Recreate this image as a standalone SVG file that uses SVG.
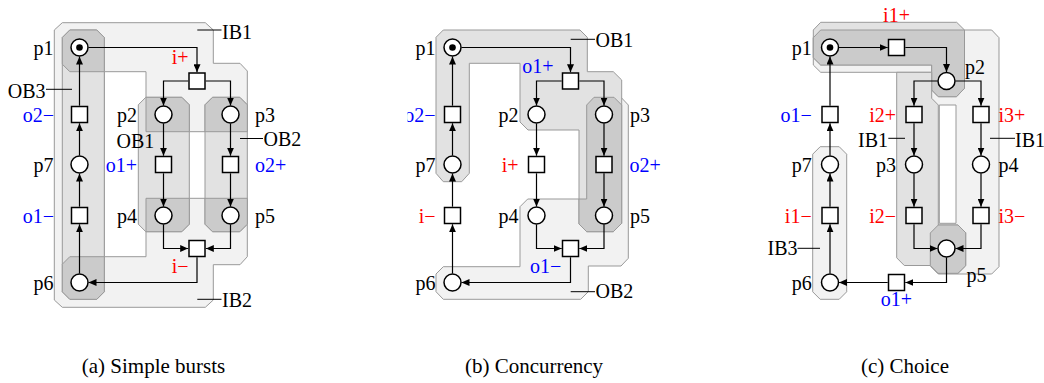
<svg xmlns="http://www.w3.org/2000/svg" width="1044" height="383" viewBox="0 0 1044 383">
<defs>
<marker id="ah" markerUnits="userSpaceOnUse" viewBox="0 0 8 7" markerWidth="8" markerHeight="7" refX="8" refY="3.5" orient="auto"><path d="M0,0 L8,3.5 L0,7 Z" fill="#000"/></marker>
<clipPath id="clipB"><rect x="407.5" y="0" width="636" height="383"/></clipPath>
</defs>
<style>
.lt{fill:#f2f2f2;stroke:#999;stroke-width:1}
.md{fill:#e2e2e2;stroke:#999;stroke-width:1}
.dk{fill:#cbcbcb;stroke:#999;stroke-width:1}
.pl{fill:#fff;stroke:#000;stroke-width:1.5}
.tr{fill:#fff;stroke:#000;stroke-width:1.5}
.tok{fill:#000}
.arc{fill:none;stroke:#000;stroke-width:1.2;marker-end:url(#ah)}
.ptr{stroke:#000;stroke-width:1}
.t{font-family:'Liberation Serif','DejaVu Serif',serif;font-size:20px;fill:#000}
.e{text-anchor:end}
.m{text-anchor:middle}
.red{fill:#f00}
.blue{fill:#00f}
.cap{font-size:21px}
</style>

<g id="regions-a">
<path id="IB1-IB2-a" class="lt" d="M62.3,22.7 H205.3 L213.3,30 V63.3 H240 L247.3,71 V131.7 H146 V71.7 H104.3 V256.7 H146 V198.3 H247.3 V256.7 L240,264.7 H213.3 V300 L205.3,307.3 H62.3 L54.3,300 V30 Z"/>
<path id="OB3-a" class="md" d="M62.3,37.5 L69.8,30 H96.8 L104.3,37.5 V291.8 L96.8,299.3 H69.8 L62.3,291.8 Z"/>
<path id="OB1-a" class="md" d="M138.3,104.8 L145.8,97.3 H181.8 L189.3,104.8 V224.2 L181.8,231.7 H145.8 L138.3,224.2 Z"/>
<path id="OB2-a" class="md" d="M205,104.8 L212.5,97.3 H239.8 L247.3,104.8 V224.2 L239.8,231.7 H212.5 L205,224.2 Z"/>
<path class="dk" d="M62.3,37.5 L69.8,30 H96.8 L104.3,37.5 V71.7 H69.8 L62.3,64.2 Z"/>
<path class="dk" d="M62.3,264.2 L69.8,256.7 H104.3 V291.8 L96.8,299.3 H69.8 L62.3,291.8 Z"/>
<path class="dk" d="M146,97.3 H181.8 L189.3,104.8 V131.7 H146 Z"/>
<path class="dk" d="M146,198.3 H189.3 V224.2 L181.8,231.7 H146 Z"/>
<path class="dk" d="M205,104.8 L212.5,97.3 H239.8 L247.3,104.8 V131.7 H205 Z"/>
<path class="dk" d="M205,198.3 H247.3 V224.2 L239.8,231.7 H212.5 L205,224.2 Z"/>
</g>
<g id="regions-b">
<path id="OB2-b" class="lt" d="M586.7,105 L594,97.3 H621 L628.3,105 V258.3 L621,266 H588.3 V291.7 L580.7,299.3 H443.3 L436,291.7 V274 L443.3,266.7 H520 V206.7 L527.7,199 H586.7 Z"/>
<path id="OB1-b" class="md" d="M436,37.3 L443.3,30 H580 L587.3,37.3 V71.7 H613.3 L621.7,80 V223.3 L613.3,231.7 H586.7 L579,224 V130 H528 L520,122 V63.3 H469.3 V173.3 L461.7,181.7 H443.3 L436,173.3 Z"/>
<path class="dk" d="M586.7,105 L594,97.3 H614 L621.7,105 V223.3 L613.3,231.7 H586.7 L579,224 V199 H586.7 Z"/>
</g>
<g id="regions-c">
<path id="IB1-right-c" class="lt" fill-rule="evenodd" d="M813.3,37.7 L820.7,30 H991.7 L999,37.7 V266.7 L991.7,274 H938.3 L931,266.7 V72.3 H820.7 L813.3,65 Z M939.3,105 H956 V223.3 H939.3 Z"/>
<path id="i1-region-c" class="md" d="M813.3,30 L820.7,22.3 H956.7 L964.5,30 V88.3 L956.5,96.7 H938.3 L931.7,90 V65 H820.7 L813.3,57.7 Z"/>
<path class="dk" d="M813.3,37.7 L820.7,30 H964.5 V88.3 L956.5,96.7 H938.3 L931.7,90 V65 H820.7 L813.3,57.7 Z"/>
<path id="IB1-left-c" class="md" d="M896.7,72.3 H931.7 V98.3 L938.3,105 V225 H958 L965.7,232.7 V265.7 L958,273.3 H938 L930.3,265.5 H904.3 L896.7,257.8 Z"/>
<path class="dk" d="M938.3,225 H958 L965.7,232.7 V265.7 L958,273.3 H938 L930.3,265.5 V233 Z"/>
<path id="IB3-c" class="lt" d="M812.7,154.2 L820.2,146.7 H839.2 L846.7,154.2 V291.8 L839.2,299.3 H820.2 L812.7,291.8 Z"/>
</g>

<g id="connectors">
<path class="arc" d="M88.5,47.5 H197 V72.2"/>
<path class="arc" d="M188.2,81 H163.5 V105.5"/>
<path class="arc" d="M205.8,81 H230.5 V105.5"/>
<path class="arc" d="M163.5,123.5 V155.7"/>
<path class="arc" d="M163.5,173.3 V206.5"/>
<path class="arc" d="M230.5,123.5 V155.7"/>
<path class="arc" d="M230.5,173.3 V206.5"/>
<path class="arc" d="M163.5,224.5 V248.5 H188.2"/>
<path class="arc" d="M230.5,224.5 V248.5 H205.8"/>
<path class="arc" d="M197,257.3 V282.5 H88.5"/>
<path class="arc" d="M79.5,273.5 V224.3"/>
<path class="arc" d="M79.5,206.7 V173.5"/>
<path class="arc" d="M79.5,155.5 V123.3"/>
<path class="arc" d="M79.5,105.7 V56.5"/>

<path class="arc" d="M461.5,47.5 H570.5 V72.2"/>
<path class="arc" d="M561.7,81 H536.5 V105.5"/>
<path class="arc" d="M579.3,81 H604 V105.5"/>
<path class="arc" d="M536.5,123.5 V155.7"/>
<path class="arc" d="M536.5,173.3 V206.5"/>
<path class="arc" d="M604,123.5 V155.7"/>
<path class="arc" d="M604,173.3 V206.5"/>
<path class="arc" d="M536.5,224.5 V248.5 H561.7"/>
<path class="arc" d="M604,224.5 V248.5 H579.3"/>
<path class="arc" d="M570.5,257.3 V282.5 H461.5"/>
<path class="arc" d="M452.5,273.5 V224.3"/>
<path class="arc" d="M452.5,206.7 V173.5"/>
<path class="arc" d="M452.5,155.5 V123.3"/>
<path class="arc" d="M452.5,105.7 V56.5"/>

<path class="arc" d="M839,47.5 H887.7"/>
<path class="arc" d="M905.3,47.5 H946.5 V72"/>
<path class="arc" d="M937.5,81 H914 V105.7"/>
<path class="arc" d="M955.5,81 H981 V105.7"/>
<path class="arc" d="M914,123.3 V155.5"/>
<path class="arc" d="M914,173.5 V206.7"/>
<path class="arc" d="M981,123.3 V155.5"/>
<path class="arc" d="M981,173.5 V206.7"/>
<path class="arc" d="M914,224.3 V248.5 H937.5"/>
<path class="arc" d="M981,224.3 V248.5 H955.5"/>
<path class="arc" d="M946.5,257.5 V282.5 H905.3"/>
<path class="arc" d="M887.7,282.5 H839"/>
<path class="arc" d="M830,273.5 V224.3"/>
<path class="arc" d="M830,206.7 V173.5"/>
<path class="arc" d="M830,155.5 V123.3"/>
<path class="arc" d="M830,105.7 V56.5"/>
</g>

<g id="pointers">
<line class="ptr" x1="197.3" y1="30" x2="221.5" y2="30"/>
<line class="ptr" x1="46" y1="89.3" x2="72" y2="89.3"/>
<line class="ptr" x1="240" y1="138.5" x2="263" y2="138.5"/>
<line class="ptr" x1="197.3" y1="299.3" x2="221.5" y2="299.3"/>
<line class="ptr" x1="570.7" y1="39.3" x2="595" y2="39.3"/>
<line class="ptr" x1="570.7" y1="291.7" x2="595" y2="291.7"/>
<line class="ptr" x1="888.3" y1="138.3" x2="905" y2="138.3"/>
<line class="ptr" x1="990" y1="138.3" x2="1015" y2="138.3"/>
<line class="ptr" x1="797.5" y1="248.3" x2="820" y2="248.3"/>
</g>

<g id="a-p1"><circle class="pl" cx="79.5" cy="47.5" r="8.5"/><circle class="tok" cx="79.5" cy="47.5" r="3.3"/><text class="t e" x="53.5" y="54.5">p1</text></g>
<g id="a-o2m"><rect class="tr" x="71.5" y="106.5" width="16" height="16"/><text class="t e blue" x="54" y="121.5">o2−</text></g>
<g id="a-p7"><circle class="pl" cx="79.5" cy="164.5" r="8.5"/><text class="t e" x="53.5" y="171.5">p7</text></g>
<g id="a-o1m"><rect class="tr" x="71.5" y="207.5" width="16" height="16"/><text class="t e blue" x="54" y="222.5">o1−</text></g>
<g id="a-p6"><circle class="pl" cx="79.5" cy="282.5" r="8.5"/><text class="t e" x="53.5" y="289.5">p6</text></g>
<g id="a-ip"><rect class="tr" x="189" y="73" width="16" height="16"/><text class="t e red" x="188.5" y="64">i+</text></g>
<g id="a-p2"><circle class="pl" cx="163.5" cy="114.5" r="8.5"/><text class="t e" x="137" y="122">p2</text></g>
<g id="a-p3"><circle class="pl" cx="230.5" cy="114.5" r="8.5"/><text class="t" x="255" y="122">p3</text></g>
<g id="a-o1p"><rect class="tr" x="155.5" y="156.5" width="16" height="16"/><text class="t e blue" x="137" y="171.5">o1+</text></g>
<g id="a-o2p"><rect class="tr" x="222.5" y="156.5" width="16" height="16"/><text class="t blue" x="255" y="171.5">o2+</text></g>
<g id="a-p4"><circle class="pl" cx="163.5" cy="215.5" r="8.5"/><text class="t e" x="137" y="222.5">p4</text></g>
<g id="a-p5"><circle class="pl" cx="230.5" cy="215.5" r="8.5"/><text class="t" x="255" y="222.5">p5</text></g>
<g id="a-im"><rect class="tr" x="189" y="240.5" width="16" height="16"/><text class="t e red" x="188.5" y="273">i−</text></g>
<g id="a-labels"><text class="t" x="222" y="39">IB1</text><text class="t e" x="45.5" y="97.5">OB3</text><text class="t" x="116.5" y="148">OB1</text><text class="t" x="263.5" y="146">OB2</text><text class="t" x="222" y="306.5">IB2</text></g>

<g id="b-p1"><circle class="pl" cx="452.5" cy="47.5" r="8.5"/><circle class="tok" cx="452.5" cy="47.5" r="3.3"/><text class="t e" x="435.5" y="54.5">p1</text></g>
<g id="b-o2m"><rect class="tr" x="444.5" y="106.5" width="16" height="16"/><text class="t e blue" x="435.5" y="121.5" clip-path="url(#clipB)">o2−</text></g>
<g id="b-p7"><circle class="pl" cx="452.5" cy="164.5" r="8.5"/><text class="t e" x="435.5" y="171.5">p7</text></g>
<g id="b-im"><rect class="tr" x="444.5" y="207.5" width="16" height="16"/><text class="t e red" x="435.5" y="222.5">i−</text></g>
<g id="b-p6"><circle class="pl" cx="452.5" cy="282.5" r="8.5"/><text class="t e" x="435.5" y="289.5">p6</text></g>
<g id="b-o1p"><rect class="tr" x="562.5" y="73" width="16" height="16"/><text class="t e blue" x="553.5" y="73">o1+</text></g>
<g id="b-p2"><circle class="pl" cx="536.5" cy="114.5" r="8.5"/><text class="t e" x="518.5" y="122">p2</text></g>
<g id="b-p3"><circle class="pl" cx="604" cy="114.5" r="8.5"/><text class="t" x="630" y="122">p3</text></g>
<g id="b-ip"><rect class="tr" x="528.5" y="156.5" width="16" height="16"/><text class="t e red" x="518.5" y="171.5">i+</text></g>
<g id="b-o2p"><rect class="tr" x="596" y="156.5" width="16" height="16"/><text class="t blue" x="629.5" y="171.5">o2+</text></g>
<g id="b-p4"><circle class="pl" cx="536.5" cy="215.5" r="8.5"/><text class="t e" x="518.5" y="222.5">p4</text></g>
<g id="b-p5"><circle class="pl" cx="604" cy="215.5" r="8.5"/><text class="t" x="630" y="222.5">p5</text></g>
<g id="b-o1m"><rect class="tr" x="562.5" y="240.5" width="16" height="16"/><text class="t blue" x="530" y="273">o1−</text></g>
<g id="b-labels"><text class="t" x="595.5" y="46.5">OB1</text><text class="t" x="595.5" y="298">OB2</text></g>

<g id="c-p1"><circle class="pl" cx="830" cy="47.5" r="8.5"/><circle class="tok" cx="830" cy="47.5" r="3.3"/><text class="t e" x="811.7" y="54.5">p1</text></g>
<g id="c-i1p"><rect class="tr" x="888.5" y="39.5" width="16" height="16"/><text class="t m red" x="896.5" y="22">i1+</text></g>
<g id="c-p2"><circle class="pl" cx="946.5" cy="81" r="8.5"/><text class="t" x="965" y="74">p2</text></g>
<g id="c-i2p"><rect class="tr" x="906" y="106.5" width="16" height="16"/><text class="t e red" x="896" y="121.5">i2+</text></g>
<g id="c-i3p"><rect class="tr" x="973" y="106.5" width="16" height="16"/><text class="t red" x="998.5" y="121.5">i3+</text></g>
<g id="c-p3"><circle class="pl" cx="914" cy="164.5" r="8.5"/><text class="t e" x="896" y="171.5">p3</text></g>
<g id="c-p4"><circle class="pl" cx="981" cy="164.5" r="8.5"/><text class="t" x="998.5" y="171.5">p4</text></g>
<g id="c-i2m"><rect class="tr" x="906" y="207.5" width="16" height="16"/><text class="t e red" x="896" y="222.5">i2−</text></g>
<g id="c-i3m"><rect class="tr" x="973" y="207.5" width="16" height="16"/><text class="t red" x="998.5" y="222.5">i3−</text></g>
<g id="c-p5"><circle class="pl" cx="946.5" cy="248.5" r="8.5"/><text class="t" x="966.5" y="282">p5</text></g>
<g id="c-o1p"><rect class="tr" x="888.5" y="274.5" width="16" height="16"/><text class="t m blue" x="896.5" y="306">o1+</text></g>
<g id="c-p6"><circle class="pl" cx="830" cy="282.5" r="8.5"/><text class="t e" x="811.7" y="289.5">p6</text></g>
<g id="c-i1m"><rect class="tr" x="822" y="207.5" width="16" height="16"/><text class="t e red" x="811.7" y="222.5">i1−</text></g>
<g id="c-p7"><circle class="pl" cx="830" cy="164.5" r="8.5"/><text class="t e" x="811.7" y="171.5">p7</text></g>
<g id="c-o1m"><rect class="tr" x="822" y="106.5" width="16" height="16"/><text class="t e blue" x="811.7" y="121.5">o1−</text></g>
<g id="c-labels"><text class="t e" x="888" y="146.5">IB1</text><text class="t" x="1015" y="146.5">IB1</text><text class="t e" x="797.5" y="255">IB3</text></g>

<g id="captions">
<text class="t m cap" x="153.5" y="373">(a) Simple bursts</text>
<text class="t m cap" x="534" y="373">(b) Concurrency</text>
<text class="t m cap" x="905" y="373">(c) Choice</text>
</g>
</svg>
